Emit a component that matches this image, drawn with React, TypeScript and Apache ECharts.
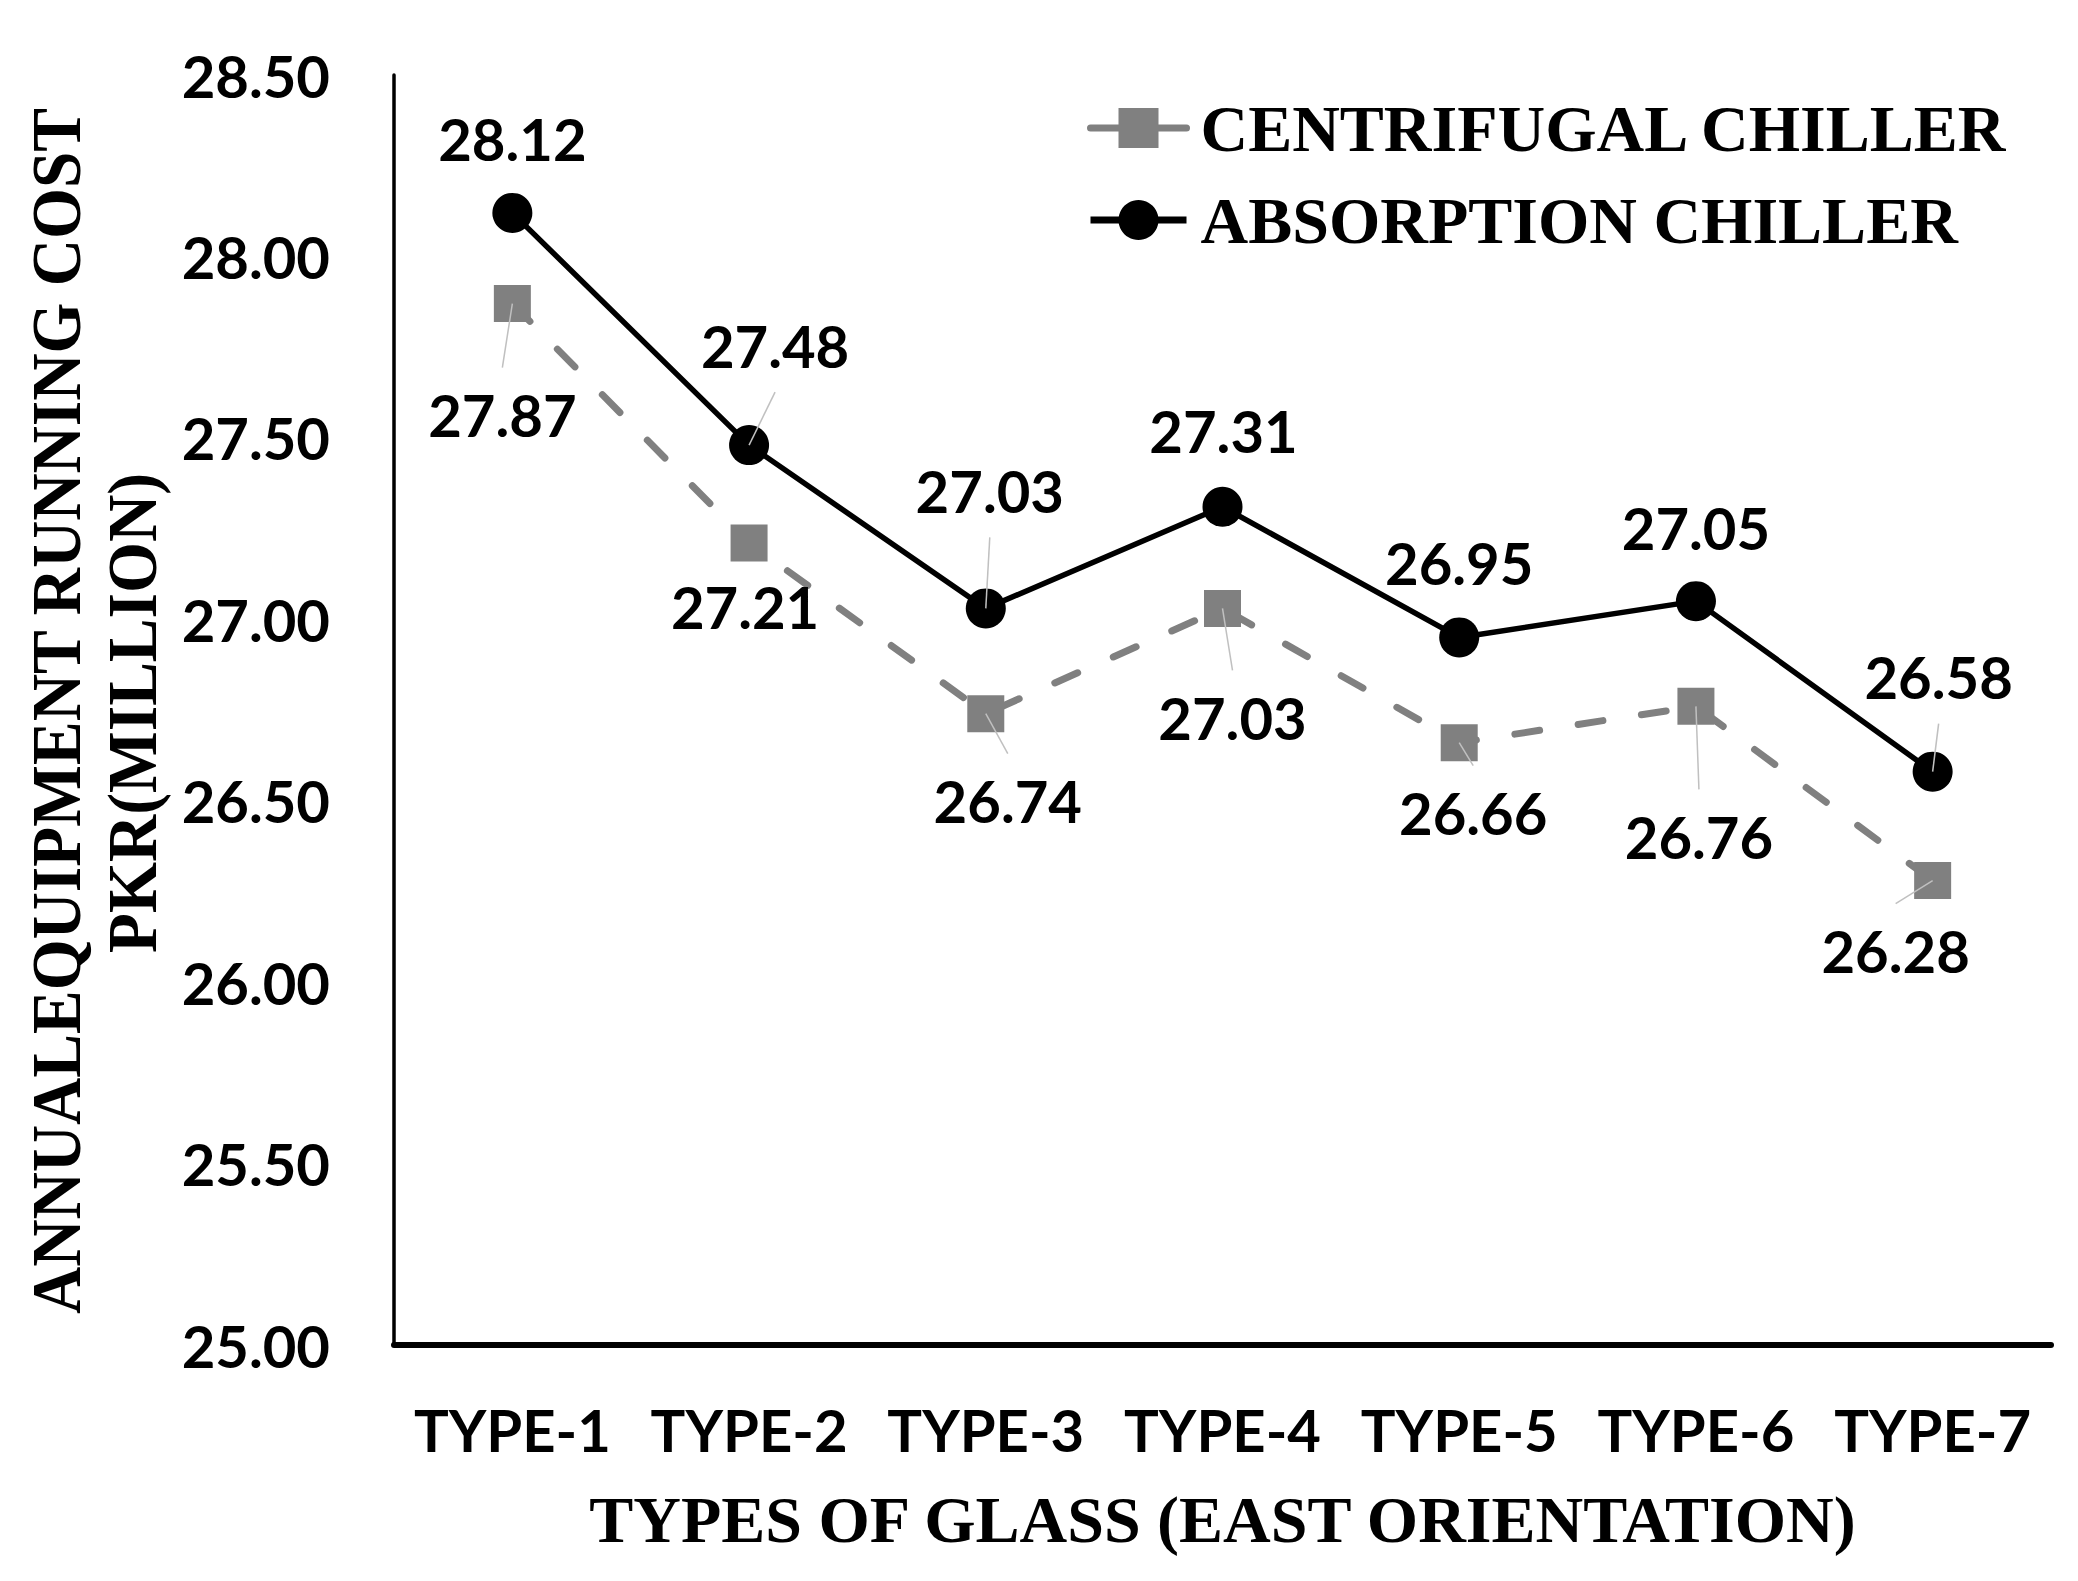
import React, { useEffect, useRef } from "react";
import * as echarts from "echarts";

// ---------- data ----------
const categories = ["TYPE-1", "TYPE-2", "TYPE-3", "TYPE-4", "TYPE-5", "TYPE-6", "TYPE-7"];
const centrifugal = [27.87, 27.21, 26.74, 27.03, 26.66, 26.76, 26.28];
const absorption = [28.12, 27.48, 27.03, 27.31, 26.95, 27.05, 26.58];
const yMin = 25;
const yMax = 28.5;
const yInterval = 0.5;
const seriesNames = ["CENTRIFUGAL CHILLER", "ABSORPTION CHILLER"];
const yTitleLines = ["ANNUALEQUIPMENT RUNNING COST", "PKR(MILLION)"];
const xTitle = "TYPES OF GLASS (EAST ORIENTATION)";

// ---------- styles (label placement) ----------
const cenOffsets: number[][] = [[-10, 111], [-4, 63], [22, 87], [10, 109], [14, 70], [3, 130], [-37, 70]];
const absOffsets: number[][] = [[0, -74], [26, -100], [4, -118], [1, -76], [0, -75], [0, -74], [6, -95]];
const cenLeader = [true, false, true, true, true, true, true];
const absLeader = [false, true, true, false, false, false, true];

const SANS = "Lato";
const SERIF = "Liberation Serif";
const GRAY = "#808080";

const labelStyle = {
  show: true,
  position: "inside",
  fontFamily: SANS,
  fontWeight: "bold",
  fontSize: 58,
  color: "#000",
};

function leaderSeries(values: number[], offsets: number[][], flags: boolean[]) {
  return {
    type: "custom",
    coordinateSystem: "cartesian2d",
    silent: true,
    z: 5,
    data: values.map((v, i) => [i, v]),
    renderItem: (params: any, api: any) => {
      const idx = params.dataIndex;
      if (!flags[idx]) return null;
      const p = api.coord([api.value(0), api.value(1)]);
      const off = offsets[idx];
      const lx = p[0] + off[0];
      const ly = p[1] + off[1];
      const ey = off[1] > 0 ? ly - 47 : ly + 47;
      return {
        type: "line",
        shape: { x1: p[0], y1: p[1], x2: lx, y2: ey },
        style: { stroke: "#c0c0c0", lineWidth: 1.5 },
      };
    },
  };
}

export default function App() {
  const ref = useRef<HTMLDivElement>(null);

  useEffect(() => {
    if (!ref.current) return;
    const chart = echarts.init(ref.current, undefined, { renderer: "svg" });
    const gridLeft = 394;
    const gridRight = 27;
    const gridTop = 75;
    const gridBottom = 236;
    const W = 2078;
    const H = 1581;
    const plotCx = gridLeft + (W - gridLeft - gridRight) / 2;
    const plotCy = gridTop + (H - gridTop - gridBottom) / 2;

    const option: any = {
      animation: false,
      backgroundColor: "#fff",
      grid: { left: gridLeft, right: gridRight, top: gridTop, bottom: gridBottom, containLabel: false },
      legend: {
        orient: "vertical",
        left: 1087,
        top: 95,
        padding: 0,
        itemWidth: 96,
        itemHeight: 50,
        itemGap: 26,
        data: seriesNames,
        lineStyle: { type: "solid", width: 7 },
        textStyle: {
          fontFamily: SERIF,
          fontWeight: "bold",
          fontSize: 66,
          lineHeight: 50,
          color: "#000",
          padding: [0, 0, 0, 9],
        },
      },
      xAxis: {
        type: "category",
        data: categories,
        boundaryGap: true,
        axisLine: { show: true, lineStyle: { color: "#000", width: 6 } },
        axisTick: { show: false },
        axisLabel: {
          interval: 0,
          margin: 55,
          fontFamily: SANS,
          fontWeight: "bold",
          fontSize: 58,
          color: "#000",
        },
        splitLine: { show: false },
      },
      yAxis: {
        type: "value",
        min: yMin,
        max: yMax,
        interval: yInterval,
        axisLine: { show: true, lineStyle: { color: "#000", width: 3.5 } },
        axisTick: { show: false },
        splitLine: { show: false },
        axisLabel: {
          margin: 64,
          fontFamily: SANS,
          fontWeight: "bold",
          fontSize: 58,
          color: "#000",
          formatter: (v: number) => v.toFixed(2),
        },
      },
      series: [
        {
          name: seriesNames[0],
          type: "line",
          z: 2,
          symbol: "rect",
          symbolSize: 37,
          itemStyle: { color: GRAY },
          lineStyle: { color: GRAY, width: 7, type: [25, 39], cap: "round" },
          data: centrifugal.map((v, i) => ({ value: v, label: { ...labelStyle, offset: cenOffsets[i] } })),
          label: labelStyle,
        },
        {
          name: seriesNames[1],
          type: "line",
          z: 3,
          symbol: "circle",
          symbolSize: 40,
          itemStyle: { color: "#000" },
          lineStyle: { color: "#000", width: 5.5 },
          data: absorption.map((v, i) => ({ value: v, label: { ...labelStyle, offset: absOffsets[i] } })),
          label: labelStyle,
        },
        leaderSeries(centrifugal, cenOffsets, cenLeader),
        leaderSeries(absorption, absOffsets, absLeader),
      ],
      graphic: [
        {
          type: "text",
          x: 57,
          y: plotCy + 1,
          rotation: Math.PI / 2,
          scaleX: 0.935,
          style: {
            text: yTitleLines[0],
            fontFamily: SERIF,
            fontWeight: "bold",
            fontSize: 70,
            fill: "#000",
            align: "center",
            verticalAlign: "middle",
          },
        },
        {
          type: "text",
          x: 133,
          y: plotCy + 3,
          rotation: Math.PI / 2,
          scaleX: 0.935,
          style: {
            text: yTitleLines[1],
            fontFamily: SERIF,
            fontWeight: "bold",
            fontSize: 70,
            fill: "#000",
            align: "center",
            verticalAlign: "middle",
          },
        },
        {
          type: "text",
          x: plotCx,
          y: 1519,
          style: {
            text: xTitle,
            fontFamily: SERIF,
            fontWeight: "bold",
            fontSize: 66,
            fill: "#000",
            align: "center",
            verticalAlign: "middle",
          },
        },
      ],
    };
    chart.setOption(option);
    return () => chart.dispose();
  }, []);

  return (
    <div
      ref={ref}
      style={{ position: "absolute", left: 0, top: 0, width: 2078, height: 1581, background: "#fff" }}
    />
  );
}
